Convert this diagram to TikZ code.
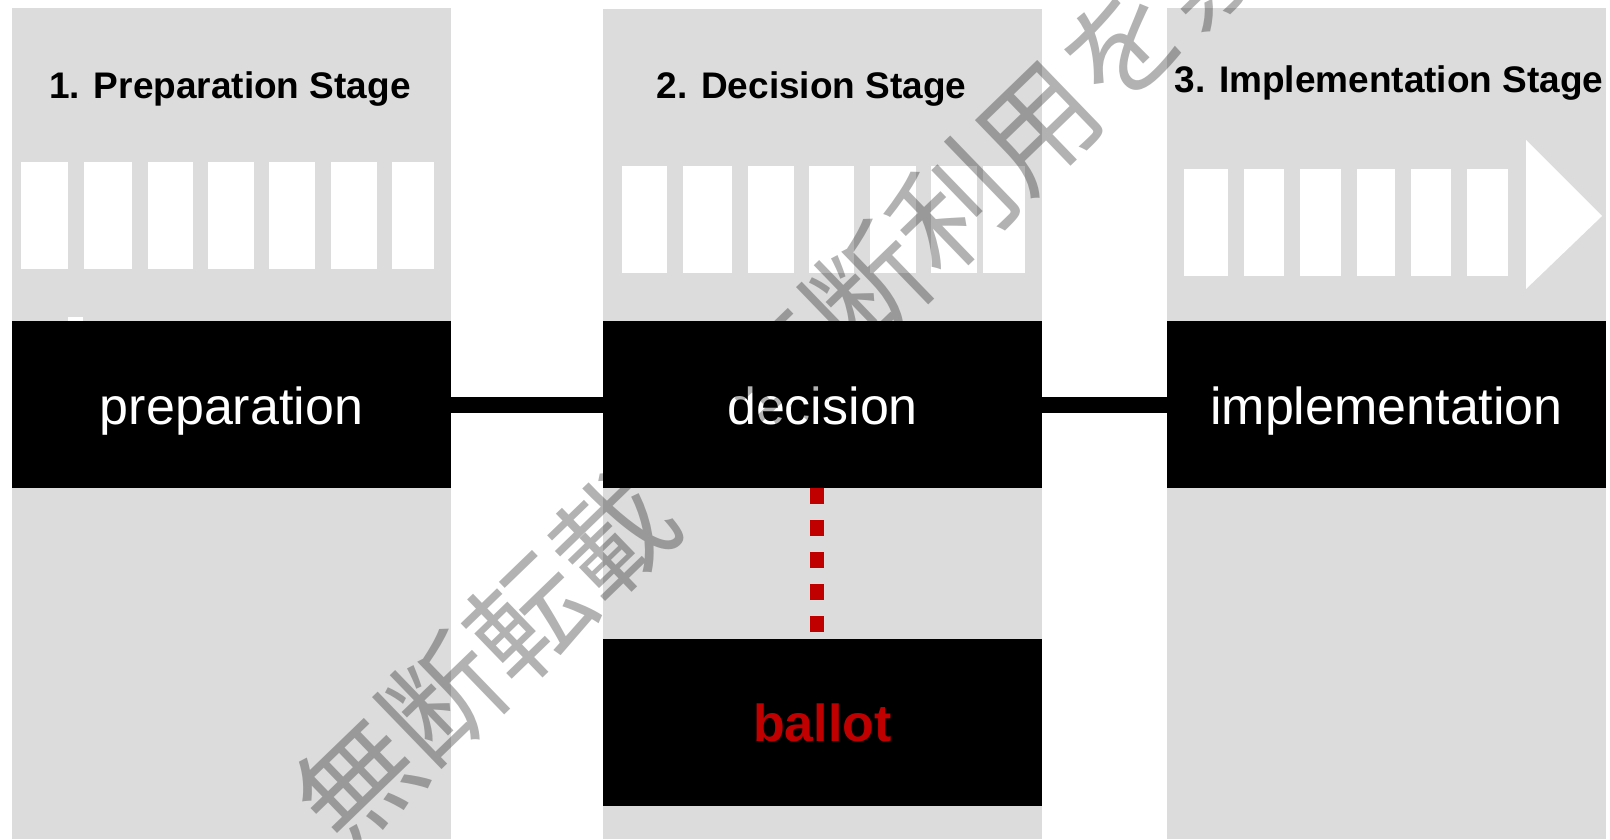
\documentclass[tikz,border=0pt]{standalone}
\usepackage{fontspec}
\setmainfont{Liberation Sans}
\newfontfamily\cjkfont{Noto Sans CJK JP}
\definecolor{panelgray}{HTML}{DCDCDC}
\definecolor{ballotred}{HTML}{C00000}
\begin{document}
\begin{tikzpicture}[x=1pt,y=-1pt,
  panel/.style={fill=panelgray},
  slot/.style={fill=white},
  band/.style={fill=black, text=white, inner sep=0pt, outer sep=0pt,
    minimum width=439pt, minimum height=167pt,
    font=\fontsize{52}{60}\selectfont, text height=39pt, text depth=0pt},
  ballotbox/.style={band, text=ballotred, font=\bfseries\fontsize{52}{60}\selectfont,
    text height=37pt},
  stagetitle/.style={anchor=base, font=\bfseries\fontsize{37}{44}\selectfont,
    text=black, inner sep=0pt},
  link/.style={line width=16pt, black},
  vote/.style={line width=14pt, ballotred, dash pattern=on 16pt off 16pt},
  wmark/.style={font=\cjkfont\fontsize{118}{118}\selectfont, text=black,
    text opacity=0.3, inner sep=0pt, rotate=44}
]
% canvas
\fill[white] (0,0) rectangle (1610,839);
\useasboundingbox (0,0) rectangle (1610,839);

% gray panels
\fill[panel] (12,8) rectangle (451,839);
\fill[panel] (603,9) rectangle (1042,839);
\fill[panel] (1167,8) rectangle (1606,839);

% slots panel 1
\foreach \a/\b in {21/68,84/132,148/193,208/254,269/315,331/377,392/434}
  \fill[slot] (\a,162) rectangle (\b,269);
\fill[slot] (68,317) rectangle (83,321);
% slots panel 2
\foreach \a/\b in {622/667,683/732,748/794,809/854,870/916,931/977,983/1025}
  \fill[slot] (\a,166) rectangle (\b,273);
% slots panel 3 + arrow head
\foreach \a/\b in {1184/1228,1244/1284,1300/1341,1357/1395,1411/1451,1467/1508}
  \fill[slot] (\a,169) rectangle (\b,276);
\fill[slot] (1526,140) -- (1602,216) -- (1526,289) -- cycle;

% titles
\node[stagetitle] (t1) at (230,98) {1. Preparation Stage};
\node[stagetitle] (t2) at (811.5,98) {2. Decision Stage};
\node[stagetitle] (t3) at (1389,92) {3. Implementation Stage};

% black bands
\node[band] (prep) at (231.5,404.5) {preparation};
\node[band] (dec) at (822.5,404.5) {decision};
\node[band] (impl) at (1386.5,404.5) {implementation};
\node[ballotbox] (ballot) at (822.5,722.5) {ballot};

% connectors
\draw[link] (prep.east) -- (dec.west);
\draw[link] (dec.east) -- (impl.west);
\draw[vote] ([xshift=-5.5pt]dec.south) -- ([xshift=-5.5pt]ballot.north);

% watermark
\node[wmark] (wm) at (825,331) {無断転載・無断利用を禁ず};
\end{tikzpicture}
\end{document}
